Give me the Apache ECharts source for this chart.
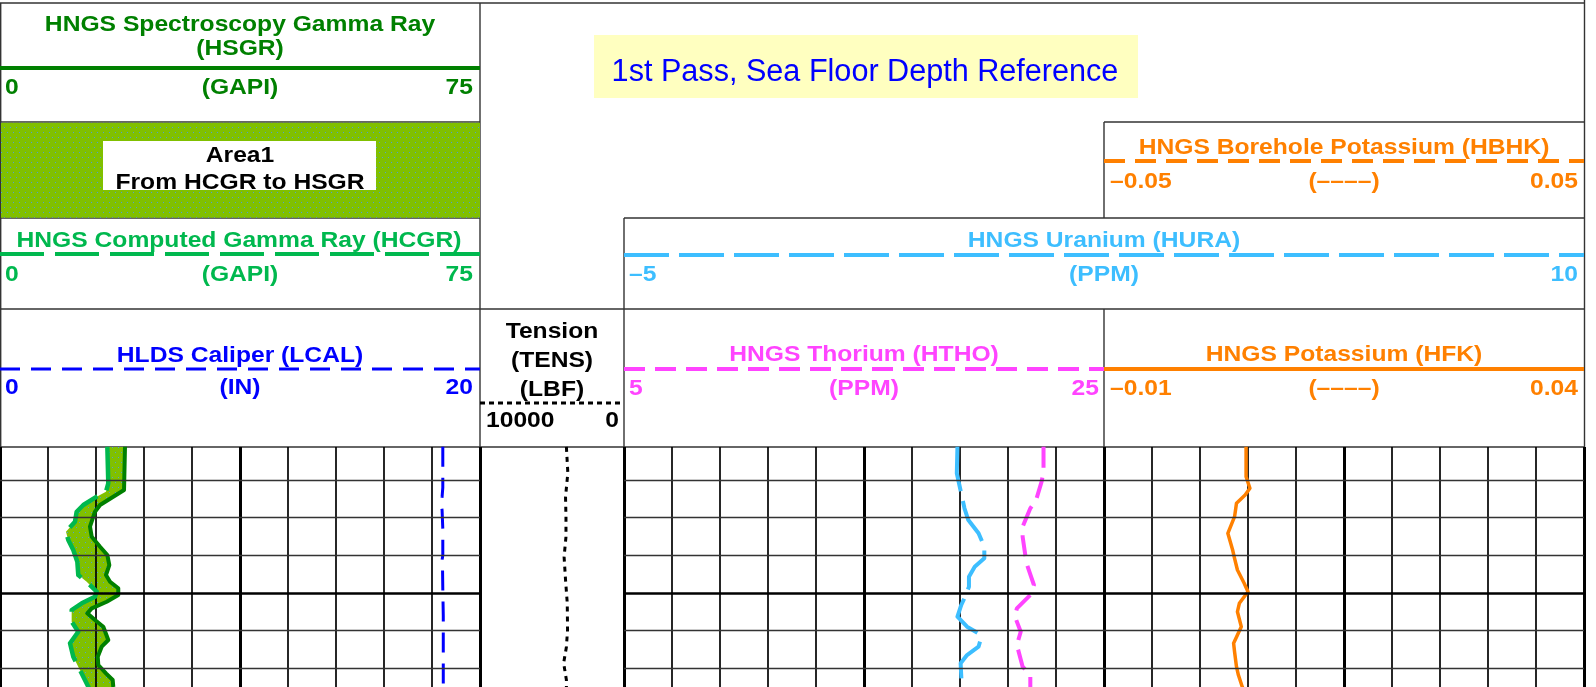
<!DOCTYPE html>
<html>
<head>
<meta charset="utf-8">
<script src="https://cdn.jsdelivr.net/npm/echarts@6.0.0/dist/echarts.min.js"></script>
<style>
  html, body { margin: 0; padding: 0; background: #fff; }
  #log { width: 1596px; height: 687px; }
</style>
</head>
<body>
<div id="log"></div>
<script>
// ---- depth window and depth grid (m below sea floor) ----
const depthTop = 6.124;
const depthBottom = 12.495;
const depthLines = [7, 8, 9, 10, 11, 12];
const majorDepth = 10;

// ---- curves: value arrays with their sample depths ----
const hsgrDepth = [6.116, 7.266, 7.664, 7.842, 8.240, 8.505, 8.771, 8.991, 9.257, 9.522, 9.700, 9.875, 10.053, 10.231, 10.406, 10.539, 10.717, 10.894, 11.248, 11.425, 11.691, 11.911, 12.132, 12.310, 12.487, 12.60];
const hsgrValue = [19.53, 19.38, 15.63, 14.84, 14.06, 14.33, 15.63, 16.77, 17.08, 16.56, 17.19, 18.48, 18.48, 16.67, 14.33, 13.64, 14.84, 16.14, 16.92, 15.89, 15.27, 15.36, 16.56, 17.61, 17.70, 17.80];

const hcgrDepth = [6.116, 7.088, 7.311, 7.443, 7.664, 7.842, 8.107, 8.373, 8.593, 8.859, 9.169, 9.522, 9.700, 9.965, 10.098, 10.273, 10.451, 10.762, 11.027, 11.335, 11.691, 11.956, 12.222, 12.487, 12.60];
const hcgrValue = [16.77, 16.92, 16.56, 15.11, 13.02, 11.98, 11.72, 10.31, 10.67, 11.45, 12.08, 12.23, 13.55, 15.11, 14.84, 12.77, 11.20, 11.20, 12.23, 10.94, 11.45, 12.23, 13.02, 13.80, 14.10];

const lcalDepth = [6.12, 7.2, 7.45, 7.6, 7.8, 8.3, 9.0, 9.2, 9.4, 9.9, 10.6, 11.5, 12.6];
const lcalValue = [18.45, 18.45, 18.42, 18.38, 18.42, 18.45, 18.45, 18.40, 18.44, 18.45, 18.47, 18.47, 18.47];

const tensDepth = [6.12, 6.81, 7.45, 7.98, 8.51, 9.04, 9.65, 10.27, 10.98, 11.43, 11.86, 12.31, 12.6];
const tensValue = [4000, 3900, 4060, 4030, 4030, 4160, 4060, 3940, 3920, 4000, 4190, 4000, 4000];

const huraDepth = [6.116, 6.822, 7.751, 8.062, 8.415, 8.771, 9.078, 9.302, 9.567, 9.833, 10.098, 10.318, 10.629, 10.894, 11.070, 11.248, 11.425, 11.646, 11.866, 12.222, 12.487, 12.6];
const huraValue = [0.21, 0.20, 0.32, 0.38, 0.54, 0.63, 0.63, 0.48, 0.39, 0.39, 0.33, 0.27, 0.21, 0.36, 0.54, 0.57, 0.54, 0.36, 0.26, 0.27, 0.28, 0.28];

const hthoDepth = [6.116, 6.780, 7.045, 7.531, 7.751, 8.240, 8.505, 9.036, 9.211, 9.787, 10.053, 10.406, 10.629, 11.027, 11.380, 11.956, 12.177, 12.487, 12.6];
const hthoValue = [22.48, 22.48, 22.40, 22.17, 21.93, 21.61, 21.61, 21.73, 21.77, 22.08, 21.93, 21.37, 21.29, 21.53, 21.37, 21.61, 21.93, 21.93, 21.93];

const hfkDepth = [6.116, 6.912, 7.220, 7.398, 7.618, 7.974, 8.415, 8.858, 9.078, 9.389, 9.742, 9.965, 10.273, 10.496, 10.894, 11.335, 11.558, 11.956, 12.177, 12.487, 12.6];
const hfkValue = [0.0048, 0.0048, 0.0052, 0.0047, 0.0038, 0.0036, 0.0029, 0.0034, 0.0036, 0.0039, 0.0046, 0.0050, 0.0041, 0.0039, 0.0043, 0.0035, 0.0036, 0.0038, 0.0040, 0.0044, 0.0046];

// ---- curve scales (left / right ends of the track) ----
const grScale = [0, 75];
const lcalScale = [0, 20];
const tensScale = [10000, 0];
const huraScale = [-5, 10];
const hthoScale = [5, 25];
const hfkScale = [-0.01, 0.04];
const hbhkScale = [-0.05, 0.05];

// ---- colours ----
const C_HSGR = '#008000', C_HCGR = '#00B84E', C_LCAL = '#0000FF', C_TENS = '#000000';
const C_HURA = '#3DBEFF', C_HTHO = '#FF44FF', C_K = '#FF8000';
const FONT = '"Liberation Sans", Arial, sans-serif';

const pairs = (v, d) => v.map((x, i) => [x, d[i]]);

// dotted green fill used for the gamma-ray area
function dotPattern() {
  const c = document.createElement('canvas');
  c.width = 6; c.height = 10;
  const g = c.getContext('2d');
  g.fillStyle = '#80C000'; g.fillRect(0, 0, 6, 10);
  g.fillStyle = '#4D9FD6';
  g.fillRect(1, 2, 1, 1);
  g.fillRect(4, 7, 1, 1);
  return { image: c, repeat: 'repeat' };
}
const areaFill = dotPattern();

// ---- track layout (pixels) ----
const TOP = 447, H = 240;
const tracks = [
  { left: 0, width: 480 },     // 0: gamma ray / caliper
  { left: 480, width: 144 },   // 1: tension
  { left: 624, width: 480 },   // 2: thorium
  { left: 1104, width: 480 },  // 3: potassium
  { left: 624, width: 960 }    // 4: uranium (spans tracks 2 and 3)
];

const grids = tracks.map(t => ({ left: t.left, width: t.width, top: TOP, height: H }));
const yAxes = tracks.map((t, i) => ({
  type: 'value', gridIndex: i, min: depthTop, max: depthBottom, inverse: true, show: false
}));

function gridAxis(gridIndex, max, interval, width) {
  return {
    type: 'value', gridIndex, min: 0, max, interval, z: 1.5,
    axisLine: { show: false }, axisTick: { show: false }, axisLabel: { show: false },
    splitLine: { show: true, showMinLine: true, showMaxLine: true, lineStyle: { color: '#000', width } }
  };
}
function scaleAxis(gridIndex, range) {
  const inv = range[0] > range[1];
  return { type: 'value', gridIndex, min: Math.min(...range), max: Math.max(...range), inverse: inv, show: false };
}

const xAxes = [
  gridAxis(0, 10, 1, 1.7),       // 0
  gridAxis(0, 10, 5, 3),         // 1
  scaleAxis(0, grScale),         // 2
  scaleAxis(0, lcalScale),       // 3
  gridAxis(1, 1, 1, 3),          // 4
  scaleAxis(1, tensScale),       // 5
  gridAxis(2, 10, 1, 1.7),       // 6
  gridAxis(2, 10, 5, 3),         // 7
  scaleAxis(2, hthoScale),       // 8
  gridAxis(3, 10, 1, 1.7),       // 9
  gridAxis(3, 10, 5, 3),         // 10
  scaleAxis(3, hfkScale),        // 11
  scaleAxis(4, huraScale)        // 12
];

function depthGrid(xAxisIndex, yAxisIndex) {
  return {
    type: 'line', xAxisIndex, yAxisIndex, data: [], z: 1.6, silent: true,
    markLine: {
      silent: true, symbol: ['none', 'none'], label: { show: false }, animation: false,
      lineStyle: { color: '#333', width: 1.4, type: 'solid' },
      data: depthLines.map(d => ({
        yAxis: d,
        lineStyle: d === majorDepth ? { color: '#000', width: 2.6, type: 'solid' } : { color: '#333', width: 1.4, type: 'solid' }
      }))
    }
  };
}

function curve(name, xAxisIndex, yAxisIndex, values, depths, color, width, dash, z) {
  return {
    name, type: 'line', xAxisIndex, yAxisIndex, data: pairs(values, depths),
    showSymbol: false, symbol: 'none', clip: true, z: z || 3, silent: true,
    lineStyle: { color, width, type: dash || 'solid', cap: 'butt', join: 'round' }
  };
}

const series = [
  {
    name: 'Area1', type: 'custom', xAxisIndex: 2, yAxisIndex: 0, z: 1, clip: true, silent: true,
    data: [[0, depthTop]],
    renderItem: function (params, api) {
      const pts = [];
      for (let i = 0; i < hsgrValue.length; i++) pts.push(api.coord([hsgrValue[i], hsgrDepth[i]]));
      for (let i = hcgrValue.length - 1; i >= 0; i--) pts.push(api.coord([hcgrValue[i], hcgrDepth[i]]));
      return { type: 'polygon', shape: { points: pts }, style: { fill: areaFill } };
    }
  },
  depthGrid(0, 0),
  depthGrid(6, 2),
  depthGrid(9, 3),
  curve('HSGR', 2, 0, hsgrValue, hsgrDepth, C_HSGR, 4, 'solid', 3),
  curve('HCGR', 2, 0, hcgrValue, hcgrDepth, C_HCGR, 4.5, [44, 11], 3.1),
  curve('LCAL', 3, 0, lcalValue, lcalDepth, C_LCAL, 3, [20, 11], 3),
  curve('TENS', 5, 1, tensValue, tensDepth, C_TENS, 3, [5, 5], 3),
  curve('HTHO', 8, 2, hthoValue, hthoDepth, C_HTHO, 4, [21, 10], 3),
  curve('HFK', 11, 3, hfkValue, hfkDepth, C_K, 3.5, 'solid', 3),
  curve('HURA', 12, 4, huraValue, huraDepth, C_HURA, 4, [45, 10], 3.2)
];

// ---- header graphics ----
const BORDER = '#333';
const TEXT_DY = 2;
function hl(x1, x2, y, stroke, lineWidth, dash) {
  return { type: 'line', silent: true, shape: { x1, y1: y, x2, y2: y },
    style: { stroke: stroke || BORDER, lineWidth: lineWidth || 1.4, lineDash: dash || null } };
}
function vl(x, y1, y2, stroke, lineWidth) {
  return { type: 'line', silent: true, shape: { x1: x, y1, x2: x, y2 },
    style: { stroke: stroke || BORDER, lineWidth: lineWidth || 1.4 } };
}
function label(text, x, y, color, align, opts) {
  opts = opts || {};
  return {
    type: 'text', silent: true, x, y: y + TEXT_DY, scaleX: opts.sx == null ? 1.12 : opts.sx,
    style: {
      text, fill: color, fontSize: opts.size || 22, fontWeight: opts.weight || 'bold',
      fontFamily: FONT, align: align || 'center', verticalAlign: 'middle'
    }
  };
}

const graphic = [
  // track header frames
  hl(0, 1585, 3),
  vl(0.7, 3, TOP),
  vl(480, 3, TOP),
  vl(1584.5, 0, TOP),
  hl(0, 480, 122), hl(1104, 1584, 122),
  hl(0, 480, 218), hl(624, 1584, 218),
  hl(0, 1584, 309),
  hl(0, 1584, TOP),
  vl(624, 218, TOP),
  vl(1104, 122, 218),
  vl(1104, 309, TOP),

  // HSGR
  label('HNGS Spectroscopy Gamma Ray', 240, 23, C_HSGR),
  label('(HSGR)', 240, 47, C_HSGR),
  hl(0, 480, 68, C_HSGR, 4),
  label(String(grScale[0]), 5, 86, C_HSGR, 'left'),
  label('(GAPI)', 240, 86, C_HSGR),
  label(String(grScale[1]), 473, 86, C_HSGR, 'right'),

  // Area1 box
  { type: 'rect', silent: true, shape: { x: 1, y: 122.7, width: 479, height: 95 }, style: { fill: areaFill } },
  { type: 'rect', silent: true, shape: { x: 103, y: 141, width: 273, height: 49 }, style: { fill: '#fff' } },
  label('Area1', 240, 154, '#000'),
  label('From HCGR to HSGR', 240, 181, '#000'),

  // HCGR
  label('HNGS Computed Gamma Ray (HCGR)', 239, 238.5, C_HCGR),
  hl(0, 480, 254, C_HCGR, 4, [44, 11]),
  label(String(grScale[0]), 5, 273, C_HCGR, 'left'),
  label('(GAPI)', 240, 273, C_HCGR),
  label(String(grScale[1]), 473, 273, C_HCGR, 'right'),

  // LCAL
  label('HLDS Caliper (LCAL)', 240, 354, C_LCAL),
  hl(0, 480, 369, C_LCAL, 3, [20, 11]),
  label(String(lcalScale[0]), 5, 386, C_LCAL, 'left'),
  label('(IN)', 240, 386, C_LCAL),
  label(String(lcalScale[1]), 473, 386, C_LCAL, 'right'),

  // TENS
  label('Tension', 552, 330, '#000'),
  label('(TENS)', 552, 359, '#000'),
  label('(LBF)', 552, 388, '#000'),
  hl(480, 624, 403, '#000', 3, [5, 4]),
  label(String(tensScale[0]), 486, 419, '#000', 'left'),
  label(String(tensScale[1]), 619, 419, '#000', 'right'),

  // pass banner
  { type: 'rect', silent: true, shape: { x: 594, y: 35, width: 544, height: 63 }, style: { fill: '#FFFFC0' } },
  label('1st Pass, Sea Floor Depth Reference', 865, 71, '#0000FF', 'center', { size: 30.6, weight: 'normal', sx: 1 }),

  // HBHK
  label('HNGS Borehole Potassium (HBHK)', 1344, 145.5, C_K),
  hl(1104, 1584, 161, C_K, 4, [21, 10]),
  label('\u20130.05', 1110, 179.5, C_K, 'left'),
  label('(\u2013\u2013\u2013\u2013)', 1344, 179.5, C_K),
  label(String(hbhkScale[1]), 1578, 179.5, C_K, 'right'),

  // HURA
  label('HNGS Uranium (HURA)', 1104, 238.5, C_HURA),
  hl(624, 1584, 255, C_HURA, 4, [45, 10]),
  label('\u20135', 629, 273, C_HURA, 'left'),
  label('(PPM)', 1104, 273, C_HURA),
  label(String(huraScale[1]), 1578, 273, C_HURA, 'right'),

  // HTHO
  label('HNGS Thorium (HTHO)', 864, 353, C_HTHO),
  hl(624, 1104, 369, C_HTHO, 4, [21, 10]),
  label(String(hthoScale[0]), 629, 387, C_HTHO, 'left'),
  label('(PPM)', 864, 387, C_HTHO),
  label(String(hthoScale[1]), 1099, 387, C_HTHO, 'right'),

  // HFK
  label('HNGS Potassium (HFK)', 1344, 353, C_K),
  hl(1104, 1584, 369, C_K, 4),
  label('\u20130.01', 1110, 387, C_K, 'left'),
  label('(\u2013\u2013\u2013\u2013)', 1344, 387, C_K),
  label(String(hfkScale[1]), 1578, 387, C_K, 'right')
];

const chart = echarts.init(document.getElementById('log'), null, { renderer: 'canvas' });
chart.setOption({
  backgroundColor: '#fff',
  animation: false,
  grid: grids,
  xAxis: xAxes,
  yAxis: yAxes,
  series,
  graphic
});
</script>
</body>
</html>
